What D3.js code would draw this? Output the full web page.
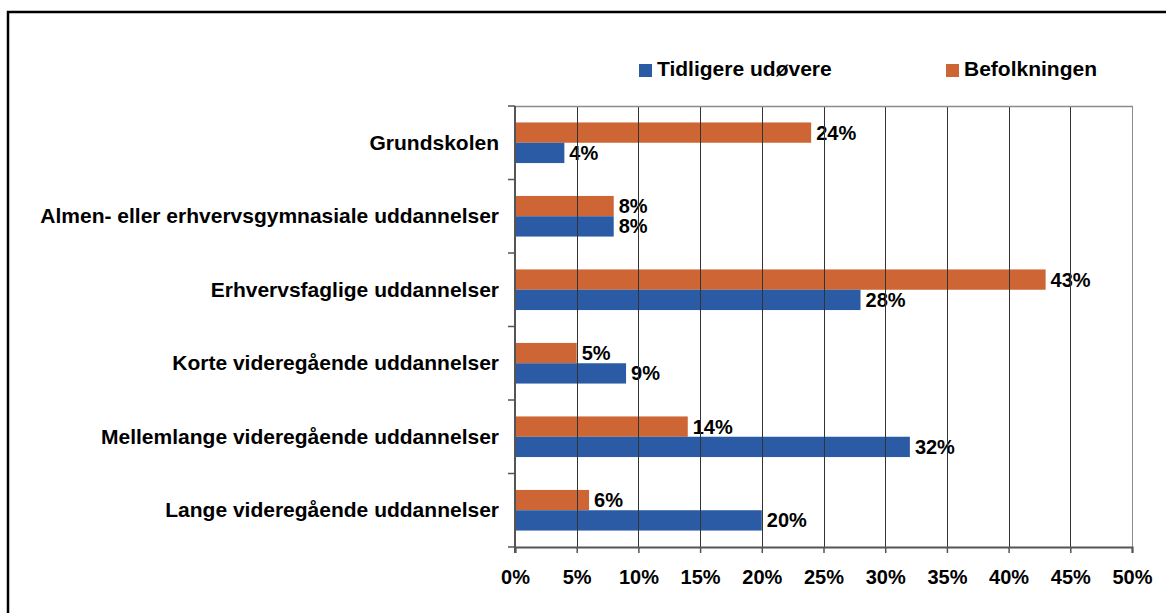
<!DOCTYPE html>
<html>
<head>
<meta charset="utf-8">
<script src="https://cdn.jsdelivr.net/npm/d3@7"></script>
<style>
  body { margin: 0; background: #fff; }
  svg { display: block; font-family: "Liberation Sans", Arial, sans-serif; font-weight: bold; }
</style>
</head>
<body>
<svg id="chart" width="1166" height="613"></svg>
<script>
const categories = [
  "Grundskolen",
  "Almen- eller erhvervsgymnasiale uddannelser",
  "Erhvervsfaglige uddannelser",
  "Korte videregående uddannelser",
  "Mellemlange videregående uddannelser",
  "Lange videregående uddannelser"
];
const seriesNames = ["Befolkningen", "Tidligere udøvere"];
const befolkningen = [24, 8, 43, 5, 14, 6];
const tidligere = [4, 8, 28, 9, 32, 20];
const xTicks = [0, 5, 10, 15, 20, 25, 30, 35, 40, 45, 50];

const COLORS = { "Befolkningen": "#cd6535", "Tidligere udøvere": "#2a5ba4" };

const plot = { left: 515, right: 1132, top: 106, bottom: 547 };

let svg = d3.select("#chart");

// outer frame (runs off the right and bottom of the picture)
svg.append("rect")
  .attr("x", 8).attr("y", 12)
  .attr("width", 1300).attr("height", 800)
  .attr("fill", "none")
  .attr("stroke", "#000")
  .attr("stroke-width", 2.5);

let x = d3.scaleLinear().domain([0, 50]).range([plot.left, plot.right]);
let y = d3.scaleBand().domain(categories).range([plot.top, plot.bottom]);
let sub = d3.scaleBand().domain(seriesNames).range([0, y.bandwidth()])
  .paddingInner(0).paddingOuter(0.81);

let rows = categories.map(function(c, i) {
  return { cat: c, values: [
    { name: "Befolkningen", v: befolkningen[i] },
    { name: "Tidligere udøvere", v: tidligere[i] }
  ]};
});

// value labels (drawn before the gridlines, which cross them in the original)
let groups = svg.append("g").selectAll("g.row").data(rows).enter().append("g")
  .attr("transform", function(d) { return "translate(0," + y(d.cat) + ")"; });

groups.selectAll("text").data(function(d) { return d.values; }).enter().append("text")
  .attr("x", function(d) { return x(d.v) + 5; })
  .attr("y", function(d) { return sub(d.name) + sub.bandwidth() / 2 + 7; })
  .attr("font-size", 20)
  .attr("fill", "#000")
  .text(function(d) { return d.v + "%"; });

// vertical gridlines
svg.append("g").selectAll("line").data(xTicks.slice(1)).enter().append("line")
  .attr("x1", function(d) { return Math.round(x(d)) + 0.5; })
  .attr("x2", function(d) { return Math.round(x(d)) + 0.5; })
  .attr("y1", plot.top).attr("y2", plot.bottom)
  .attr("stroke", function(d) { return d === 50 ? "#8a8a8a" : "#333"; })
  .attr("stroke-width", 1);

// plot top border
svg.append("line")
  .attr("x1", plot.left).attr("x2", Math.round(plot.right) + 1)
  .attr("y1", plot.top + 0.5).attr("y2", plot.top + 0.5)
  .attr("stroke", "#8a8a8a").attr("stroke-width", 1.5);

// bars
groups.selectAll("rect").data(function(d) { return d.values; }).enter().append("rect")
  .attr("x", x(0))
  .attr("y", function(d) { return sub(d.name); })
  .attr("width", function(d) { return x(d.v) - x(0); })
  .attr("height", sub.bandwidth())
  .attr("fill", function(d) { return COLORS[d.name]; });

// x axis
let xAxis = d3.axisBottom(x).tickValues(xTicks)
  .tickFormat(function(d) { return d + "%"; })
  .tickSize(6).tickPadding(17);
let gx = svg.append("g").attr("transform", "translate(0," + plot.bottom + ")").call(xAxis);
gx.select(".domain").attr("stroke", "#555").attr("stroke-width", 2);
gx.selectAll(".tick line").attr("stroke", "#555").attr("stroke-width", 1.5);
gx.selectAll(".tick text")
  .attr("font-size", 20).attr("font-family", "Liberation Sans, Arial, sans-serif")
  .attr("font-weight", "bold").attr("fill", "#000");

// y axis: ticks on category boundaries
let yAxisLine = svg.append("g");
yAxisLine.append("line")
  .attr("x1", plot.left).attr("x2", plot.left)
  .attr("y1", plot.top).attr("y2", plot.bottom + 6)
  .attr("stroke", "#555").attr("stroke-width", 2);
let boundaries = categories.map(function(c) { return y(c); }).concat([plot.bottom]);
yAxisLine.selectAll("line.t").data(boundaries).enter().append("line")
  .attr("class", "t")
  .attr("x1", plot.left - 7).attr("x2", plot.left)
  .attr("y1", function(d) { return d; }).attr("y2", function(d) { return d; })
  .attr("stroke", "#555").attr("stroke-width", 1.5);

// category labels
svg.append("g").selectAll("text").data(categories).enter().append("text")
  .attr("x", 499)
  .attr("y", function(d) { return y(d) + y.bandwidth() / 2 + 7; })
  .attr("text-anchor", "end")
  .attr("font-size", 21)
  .attr("fill", "#000")
  .text(function(d) { return d; });

// legend
let legendItems = [
  { name: "Tidligere udøvere", x: 639 },
  { name: "Befolkningen", x: 946 }
];
let legend = svg.append("g").selectAll("g").data(legendItems).enter().append("g")
  .attr("transform", function(d) { return "translate(" + d.x + ",64)"; });
legend.append("rect")
  .attr("width", 13).attr("height", 13)
  .attr("fill", function(d) { return COLORS[d.name]; });
legend.append("text")
  .attr("x", 18).attr("y", 12)
  .attr("font-size", 21)
  .attr("fill", "#000")
  .text(function(d) { return d.name; });
</script>
</body>
</html>
